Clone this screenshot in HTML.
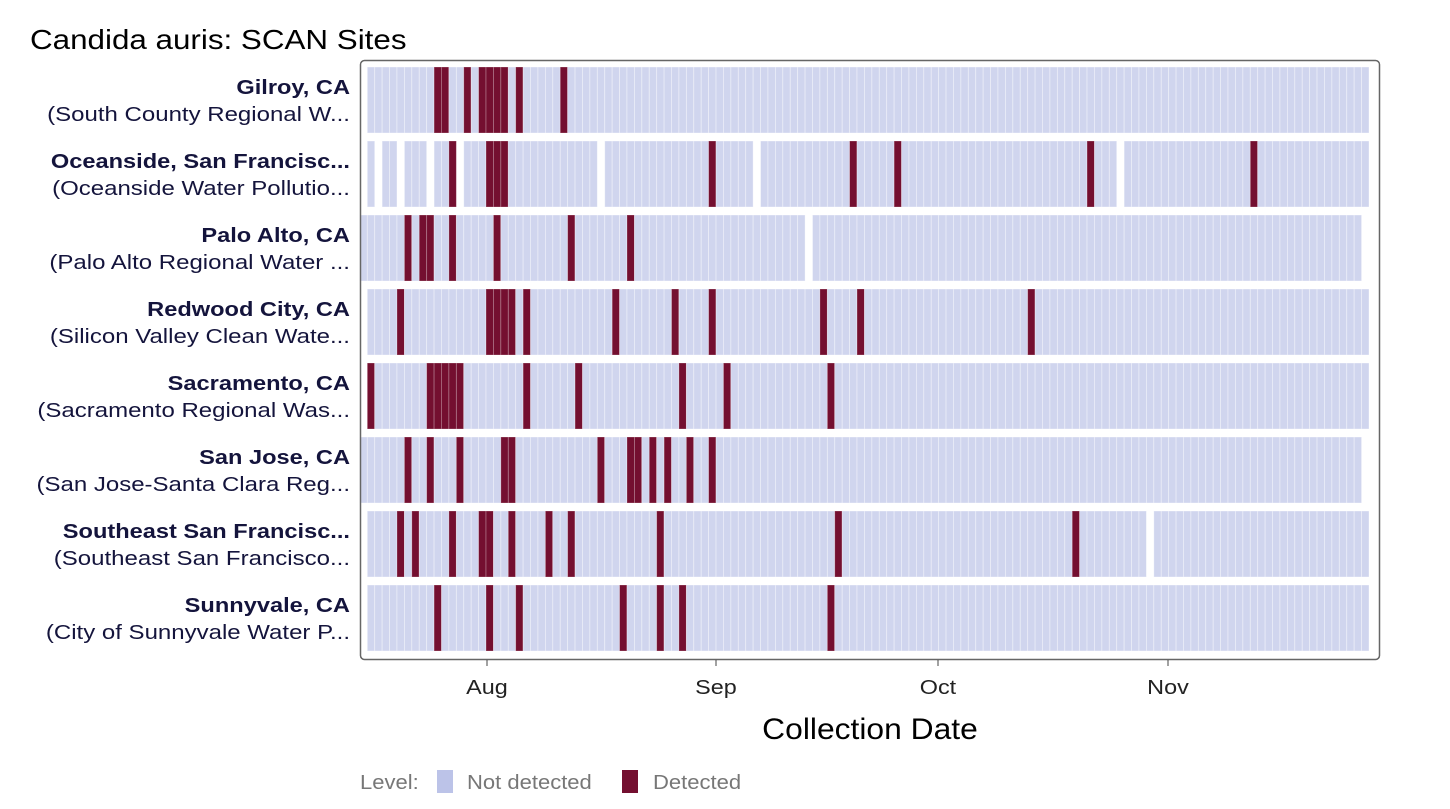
<!DOCTYPE html>
<html><head><meta charset="utf-8"><style>
body{margin:0;background:#fff;width:1450px;height:804px;overflow:hidden;font-family:"Liberation Sans",Arial,sans-serif}
</style></head><body>
<svg id="s" width="1450" height="804" xmlns="http://www.w3.org/2000/svg" font-family="Liberation Sans, Arial, sans-serif">
<text class="w" data-r="1.12" x="30" y="49" font-size="28" fill="#000">Candida auris: SCAN Sites</text>
<g id="cells"></g>
<rect x="360.5" y="60.5" width="1019" height="599" rx="4" fill="none" stroke="#666" stroke-width="1.5"/>
<g stroke="#444" stroke-width="1">
<line x1="487" y1="660" x2="487" y2="666"/><line x1="716" y1="660" x2="716" y2="666"/>
<line x1="938" y1="660" x2="938" y2="666"/><line x1="1168" y1="660" x2="1168" y2="666"/>
</g>
<g font-size="20" fill="#222" text-anchor="middle">
<text class="w" data-r="1.17" x="487" y="694">Aug</text><text class="w" data-r="1.17" x="716" y="694">Sep</text><text class="w" data-r="1.17" x="938" y="694">Oct</text><text class="w" data-r="1.17" x="1168" y="694">Nov</text>
</g>
<text class="w" data-r="1.06" x="870" y="739" font-size="30" text-anchor="middle" fill="#000">Collection Date</text>
<g font-size="20" fill="#777"><text class="w" data-r="1.1" x="360" y="789">Level:</text><text class="w" data-r="1.1" x="467" y="789">Not detected</text><text class="w" data-r="1.1" x="653" y="789">Detected</text></g>
<rect x="437" y="770" width="16" height="23" fill="#bcc3e8"/>
<rect x="622" y="770" width="16" height="23" fill="#740f30"/>
<g id="labels" font-size="20" fill="#14143c" text-anchor="end"></g>
</svg>
<script>
var rows=[
 ["Gilroy, CA","(South County Regional W...",0,134,[],[9,10,13,15,16,17,18,20,26]],
 ["Oceanside, San Francisc...","(Oceanside Water Pollutio...",0,134,[1,4,8,12,31,52,101],[11,16,17,18,46,65,71,97,119]],
 ["Palo Alto, CA","(Palo Alto Regional Water ...",-1,133,[59],[5,7,8,11,17,27,35]],
 ["Redwood City, CA","(Silicon Valley Clean Wate...",0,134,[],[4,16,17,18,19,21,33,41,46,61,66,89]],
 ["Sacramento, CA","(Sacramento Regional Was...",0,134,[],[0,8,9,10,11,12,21,28,42,48,62]],
 ["San Jose, CA","(San Jose-Santa Clara Reg...",-1,133,[],[5,8,12,18,19,31,35,36,38,40,43,46]],
 ["Southeast San Francisc...","(Southeast San Francisco...",0,134,[105],[4,6,11,15,16,19,24,27,39,63,95]],
 ["Sunnyvale, CA","(City of Sunnyvale Water P...",0,134,[],[9,16,20,34,39,42,62]]];
var ns="http://www.w3.org/2000/svg",g=document.getElementById("cells"),L=document.getElementById("labels");
var W=7.42,X0=367.3;
rows.forEach(function(r,k){
 var y=67+k*74;
 for(var i=r[2];i<=r[3];i++){
  if(r[4].indexOf(i)>=0)continue;
  var d=r[5].indexOf(i)>=0;
  var e=document.createElementNS(ns,"rect");
  e.setAttribute("x",X0+i*W);e.setAttribute("y",y);e.setAttribute("width",W);e.setAttribute("height",66);
  e.setAttribute("fill",d?"#740f30":"#d0d5ee");
  e.setAttribute("stroke",d?"rgba(255,255,255,0.3)":"rgba(255,255,255,0.45)");e.setAttribute("stroke-width","0.8");
  g.appendChild(e);
 }
 var t=document.createElementNS(ns,"text");t.setAttribute("x",350);t.setAttribute("y",y+27);t.setAttribute("font-weight","bold");t.setAttribute("class","w");t.setAttribute("data-r","1.18");t.textContent=r[0];L.appendChild(t);
 var t2=document.createElementNS(ns,"text");t2.setAttribute("x",350);t2.setAttribute("y",y+54);t2.setAttribute("class","w");t2.setAttribute("data-r","1.2");t2.textContent=r[1];L.appendChild(t2);
});
document.querySelectorAll(".w").forEach(function(t){
 var w=t.getComputedTextLength()*parseFloat(t.getAttribute("data-r"));
 t.setAttribute("textLength",w.toFixed(1));t.setAttribute("lengthAdjust","spacingAndGlyphs");
});
</script>
</body></html>
